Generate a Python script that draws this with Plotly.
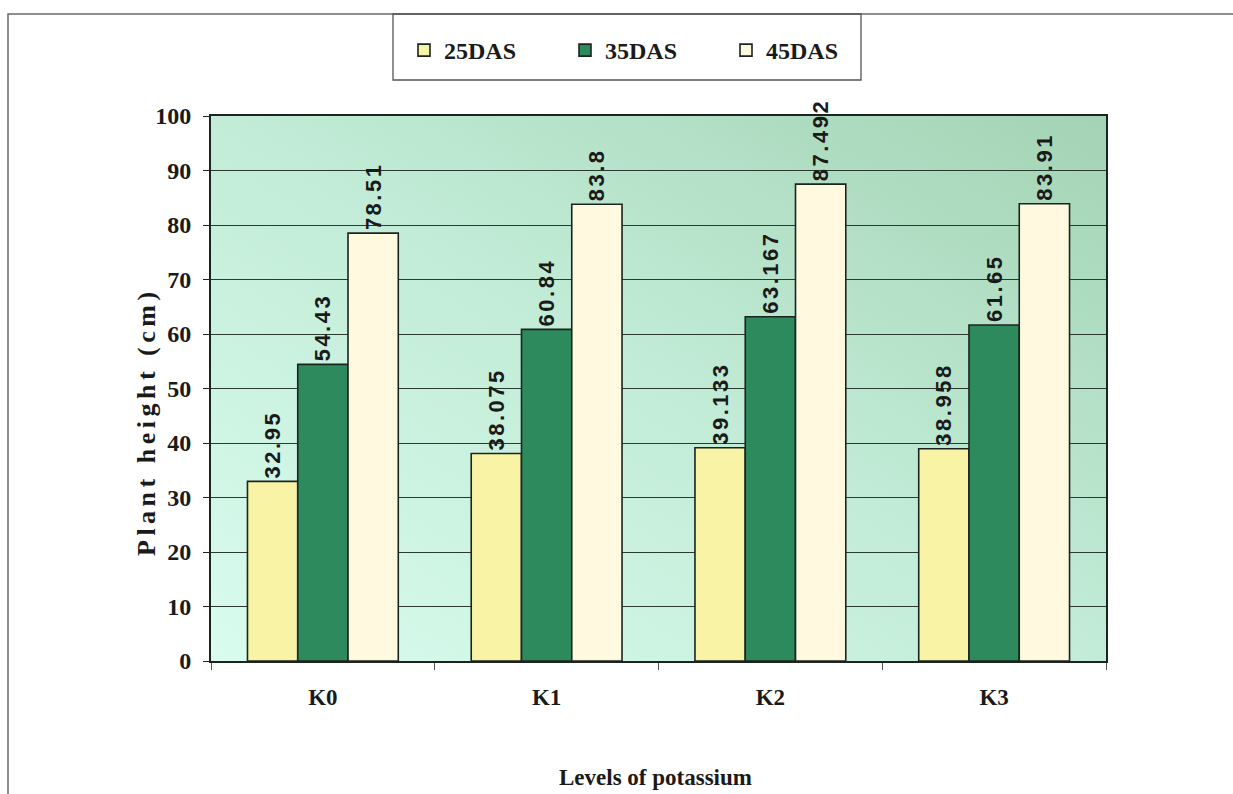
import base64
import plotly.graph_objects as go

# Plant height (cm) by potassium level at three growth stages
levels = ["K0", "K1", "K2", "K3"]
das25 = [32.95, 38.075, 39.133, 38.958]
das35 = [54.43, 60.84, 63.167, 61.65]
das45 = [78.51, 83.8, 87.492, 83.91]
series_names = ["25DAS", "35DAS", "45DAS"]
y_ticks = [0, 10, 20, 30, 40, 50, 60, 70, 80, 90, 100]

fills = ["#F9F3A6", "#2C8A5C", "#FFFADF"]
serif = "Liberation Serif, Times New Roman, serif"
sans = "Liberation Sans, Arial, sans-serif"

fig = go.Figure()
for name, vals, col in zip(series_names, [das25, das35, das45], fills):
    fig.add_trace(go.Bar(
        name=name,
        x=levels,
        y=vals,
        marker=dict(color=col, line=dict(color="#1c241f", width=1.6)),
        text=[f'<span style="letter-spacing:2.5px">{v}</span>' for v in vals],
        textposition="outside",
        textangle=-90,
        constraintext="none",
        cliponaxis=False,
        textfont=dict(family=sans, size=22, color="#1a1a1a", weight="bold"),
    ))

# diagonal mint-green wash behind the plotting area
grad_svg = (
    '<svg xmlns="http://www.w3.org/2000/svg" width="100" height="100" preserveAspectRatio="none">'
    '<defs><linearGradient id="g" x1="0" y1="1" x2="1" y2="0">'
    '<stop offset="0" stop-color="#D9FCEF"/>'
    '<stop offset="0.5" stop-color="#C2ECD7"/>'
    '<stop offset="1" stop-color="#A3D3B4"/>'
    '</linearGradient></defs>'
    '<rect width="100" height="100" fill="url(#g)"/></svg>'
)
grad_uri = "data:image/svg+xml;base64," + base64.b64encode(grad_svg.encode()).decode()

L, R, T, B = 211, 127, 116, 133
W, H = 1233, 794
pw, ph = W - L - R, H - T - B


def px_x(x):
    return (x - L) / pw


def px_y(y):
    return (H - B - y) / ph


fig.update_layout(
    width=W,
    height=H,
    margin=dict(l=L, r=R, t=T, b=B, pad=0),
    paper_bgcolor="white",
    plot_bgcolor="rgba(0,0,0,0)",
    barmode="group",
    bargap=0.326,
    bargroupgap=0,
    font=dict(family=serif, color="#1a1a1a"),
    images=[dict(
        source=grad_uri, xref="paper", yref="paper",
        x=0, y=1, sizex=1, sizey=1, sizing="stretch",
        layer="below", opacity=1,
    )],
    showlegend=True,
    legend=dict(
        orientation="h",
        x=px_x(404), xanchor="left",
        y=px_y(28), yanchor="top",
        bgcolor="rgba(0,0,0,0)",
        borderwidth=0,
        font=dict(family=serif, size=24, color="#1a1a1a", weight="bold"),
        entrywidth=116,
        entrywidthmode="pixels",
        traceorder="normal",
    ),
    xaxis=dict(
        showgrid=False,
        ticks="outside",
        tickson="boundaries",
        ticklen=7,
        tickcolor="#555",
        tickfont=dict(family=serif, size=23, color="#1a1a1a", weight="bold"),
        showline=True,
        linecolor="#1c241f",
        linewidth=2,
        mirror=True,
        ticklabelstandoff=14,
    ),
    yaxis=dict(
        range=[0, 100],
        tickvals=y_ticks,
        showgrid=True,
        gridcolor="#2a3a30",
        gridwidth=1.2,
        ticks="outside",
        ticklen=6,
        tickcolor="#1c241f",
        tickfont=dict(family=serif, size=24, color="#1a1a1a", weight="bold"),
        showline=True,
        linecolor="#1c241f",
        linewidth=2,
        mirror=True,
        zeroline=False,
        ticklabelstandoff=7,
    ),
    shapes=[
        # outer chart frame
        dict(type="rect", xref="paper", yref="paper",
             x0=px_x(8), x1=px_x(1240), y0=px_y(800), y1=px_y(14),
             line=dict(color="#6a6a6a", width=1.5), fillcolor="rgba(0,0,0,0)", layer="below"),
        # legend box
        dict(type="rect", xref="paper", yref="paper",
             x0=px_x(393), x1=px_x(861), y0=px_y(80), y1=px_y(14),
             line=dict(color="#555555", width=1.3), fillcolor="rgba(0,0,0,0)", layer="below"),
    ],
    annotations=[
        dict(text='<span style="letter-spacing:4.5px">Plant height (cm)</span>',
             xref="paper", yref="paper", x=px_x(147), y=px_y(422),
             textangle=-90, showarrow=False, xanchor="center", yanchor="middle",
             font=dict(family=serif, size=26, color="#1a1a1a", weight="bold")),
        dict(text="Levels of potassium",
             xref="paper", yref="paper", x=px_x(655), y=px_y(777),
             showarrow=False, xanchor="center", yanchor="middle",
             font=dict(family=serif, size=23, color="#1a1a1a", weight="bold")),
    ],
)

fig.write_html("out.html")
